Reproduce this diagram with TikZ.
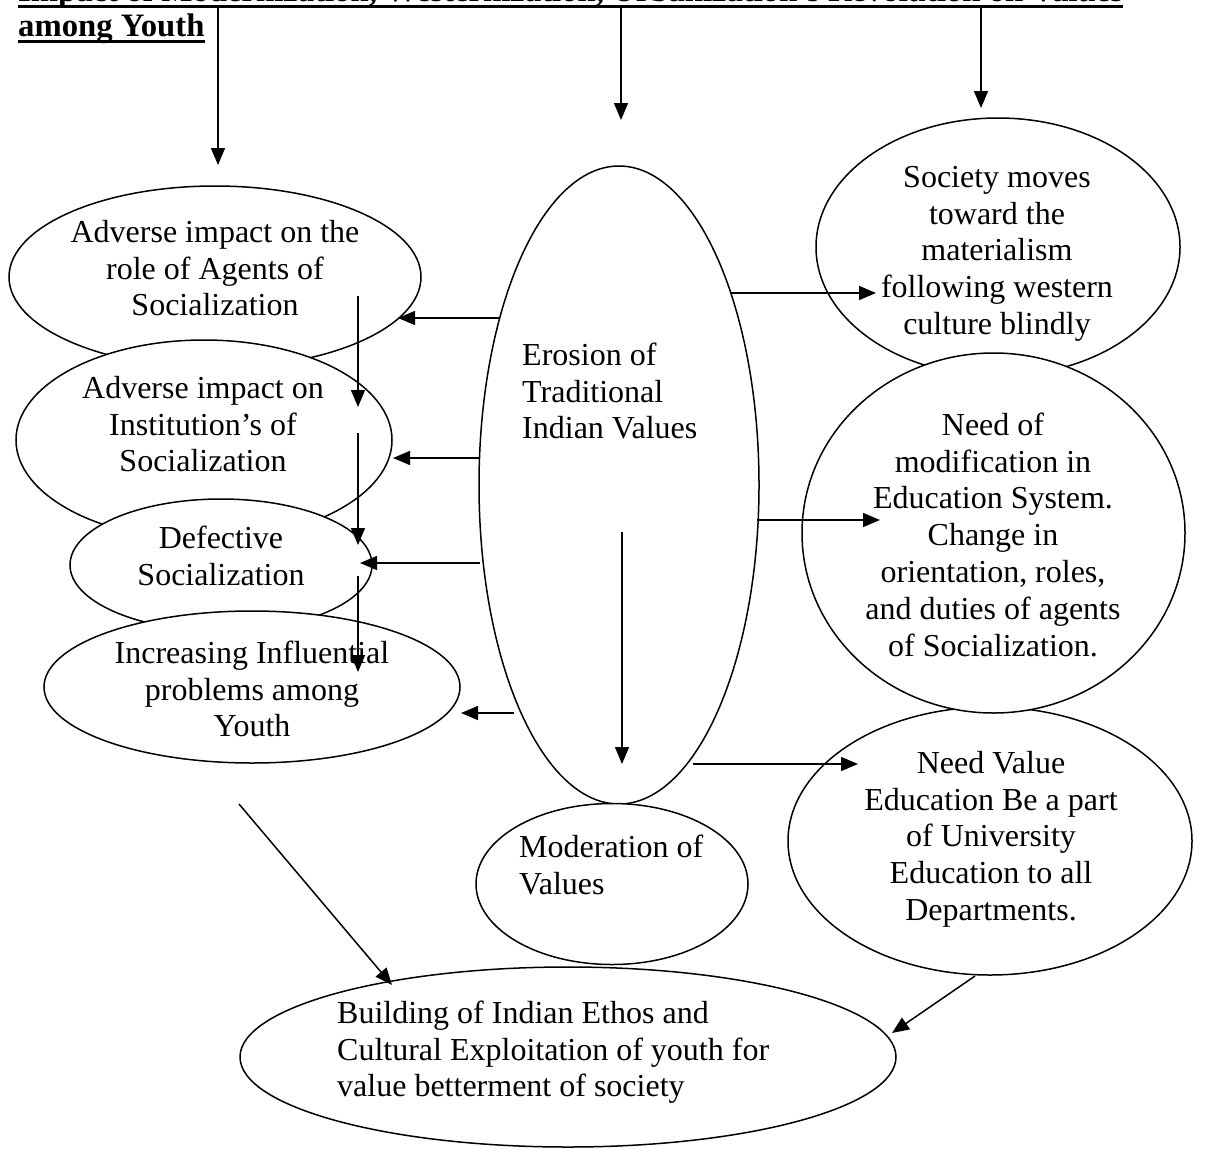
\documentclass[tikz,border=0pt]{standalone}
\usepackage{fontspec}
\setmainfont{Liberation Serif}
\usetikzlibrary{arrows.meta,shapes.geometric}

\newcommand{\topstrut}{\rule{0pt}{26pt}}

\begin{document}
\begin{tikzpicture}[x=1pt,y=-1pt,
        blob/.style={draw, ellipse, line width=1.5pt, fill=white, inner sep=0pt},
        txt/.style={inner sep=0pt, align=center, anchor=north, font=\fontsize{32}{36.8}\selectfont},
        ltxt/.style={txt, align=left, anchor=north west},
        ttl/.style={inner sep=0pt, anchor=base west, font=\bfseries\fontsize{32.7}{36.8}\selectfont},
        arr/.style={line width=1.5pt, -{Triangle[length=17pt,width=14pt]}},
        uline/.style={line width=3pt}]
        \useasboundingbox (0,0) rectangle (1206,1148);
        \clip (0,0) rectangle (1206,1148);

        % title
        \node[ttl] (titleA) at (18,2) {Impact of Modernization, Westernization, Urbanization’s Revolution on Values};
        \node[ttl] (titleB) at (18,37) {among Youth};
        \draw[uline] ([yshift=-5pt]titleA.base west) -- ([yshift=-5pt]titleA.base east);
        \draw[uline] ([yshift=-5pt]titleB.base west) -- ([yshift=-5pt]titleB.base east);

        % ellipses
        \node[blob, minimum width=412, minimum height=182] (role) at (215,277) {};
        \node[blob, minimum width=376, minimum height=200] (inst) at (204,440) {};
        \node[blob, minimum width=302, minimum height=132] (defect) at (221,565) {};
        \node[blob, minimum width=416, minimum height=152] (incr) at (252,687) {};
        \node[blob, minimum width=280, minimum height=638] (erosion) at (619,485) {};
        \node[blob, minimum width=272, minimum height=161] (moder) at (612,884) {};
        \node[blob, minimum width=656, minimum height=180] (build) at (568,1057) {};
        \node[blob, minimum width=364, minimum height=258] (society) at (998,247) {};
        \node[blob, minimum width=404, minimum height=268] (needval) at (990,841) {};
        \node[blob, minimum width=383, minimum height=360] (needmod) at (993.5,533) {};

        % texts
        \node[txt] (roleT) at (215,216) {\topstrut Adverse impact on the\\role of Agents of\\Socialization};
        \node[txt] (instT) at (203,372) {\topstrut Adverse impact on\\Institution’s of\\Socialization};
        \node[txt] (defectT) at (221,522) {\topstrut Defective\\Socialization};
        \node[txt] (incrT) at (252,637) {\topstrut Increasing Influential\\problems among\\Youth};
        \node[ltxt] (erosionT) at (522,339) {\topstrut Erosion of\\Traditional\\Indian Values};
        \node[ltxt] (moderT) at (519,831) {\topstrut Moderation of\\Values};
        \node[ltxt] (buildT) at (337,997) {\topstrut Building of Indian Ethos and\\Cultural Exploitation of youth for\\value betterment of society};
        \node[txt] (societyT) at (997,161) {\topstrut Society moves\\toward the\\materialism\\following western\\culture blindly};
        \node[txt] (needmodT) at (993,409) {\topstrut Need of\\modification in\\Education System.\\Change in\\orientation, roles,\\and duties of agents\\of Socialization.};
        \node[txt] (needvalT) at (991,747) {\topstrut Need Value\\Education Be a part\\of University\\Education to all\\Departments.};

        % arrow ends
        \coordinate (topL) at (218,8);   \coordinate (topLend) at (218,165);
        \coordinate (topM) at (621,8);   \coordinate (topMend) at (621,120);
        \coordinate (topR) at (981,8);   \coordinate (topRend) at (981,108);
        \coordinate (eroA) at (500,318); \coordinate (roleIn) at (398,318);
        \coordinate (eroB) at (480,458); \coordinate (instIn) at (393,458);
        \coordinate (eroC) at (480,563); \coordinate (defectIn) at (360,563);
        \coordinate (eroD) at (514,713); \coordinate (incrIn) at (461,713);
        \coordinate (chainA) at (358,296); \coordinate (chainAend) at (358,407);
        \coordinate (chainB) at (358,433); \coordinate (chainBend) at (358,545);
        \coordinate (chainC) at (358,576); \coordinate (chainCend) at (358,672);
        \coordinate (eroE) at (730,293); \coordinate (societyIn) at (876,293);
        \coordinate (eroF) at (757,520); \coordinate (needmodIn) at (880,520);
        \coordinate (eroG) at (693,764); \coordinate (needvalIn) at (858,764);
        \coordinate (eroIn) at (622,532); \coordinate (eroOut) at (622,764);
        \coordinate (incrOut) at (239,804); \coordinate (buildL) at (392,985);
        \coordinate (needvalOut) at (975,976); \coordinate (buildR) at (892,1033);

        % arrows
        \draw[arr] (topL) -- (topLend);
        \draw[arr] (topM) -- (topMend);
        \draw[arr] (topR) -- (topRend);
        \draw[arr] (eroA) -- (roleIn);
        \draw[arr] (eroB) -- (instIn);
        \draw[arr] (eroC) -- (defectIn);
        \draw[arr] (eroD) -- (incrIn);
        \draw[arr] (chainA) -- (chainAend);
        \draw[arr] (chainB) -- (chainBend);
        \draw[arr] (chainC) -- (chainCend);
        \draw[arr] (eroE) -- (societyIn);
        \draw[arr] (eroF) -- (needmodIn);
        \draw[arr] (eroG) -- (needvalIn);
        \draw[arr] (eroIn) -- (eroOut);
        \draw[arr] (incrOut) -- (buildL);
        \draw[arr] (needvalOut) -- (buildR);
\end{tikzpicture}
\end{document}
